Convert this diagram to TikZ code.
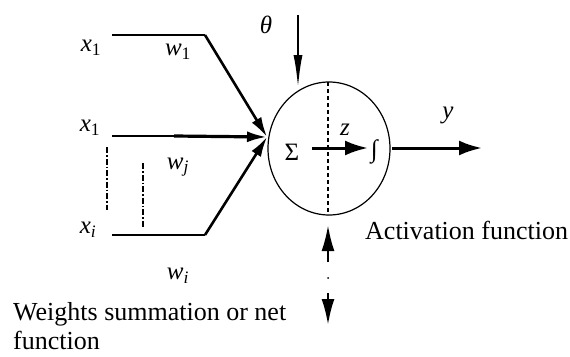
\documentclass[tikz,border=0pt]{standalone}
\usepackage{fontspec}
\setmainfont{Liberation Serif}
\usetikzlibrary{arrows.meta,shapes.geometric}
\begin{document}
\begin{tikzpicture}[x=1pt,y=-1pt,
  lbl/.style={inner sep=0pt,font=\fontsize{25}{30}\selectfont},
  thinln/.style={line width=1.5pt},
  thickarr/.style={line width=2.6pt,-{Latex[length=20pt,width=11pt]}},
  bigarr/.style={line width=3pt,-{Latex[length=23pt,width=15pt]}},
  vertarr/.style={line width=2.5pt,-{Latex[length=26pt,width=13pt]}},
  dashdotln/.style={line width=1.2pt,dash pattern=on 6pt off 2pt on 1.5pt off 2pt}]
\useasboundingbox (0,0) rectangle (570,356);
% neuron body
\node[draw,ellipse,line width=1.2pt,minimum width=122pt,minimum height=133pt,inner sep=0pt] (n) at (329,148.5) {};
\coordinate (dtop) at (328,82);
\coordinate (dbot) at (328,215);
\draw[line width=1.2pt,dash pattern=on 4pt off 3pt] (dtop) -- (dbot);
% inputs
\coordinate (a1) at (112,35);
\coordinate (b1) at (205,35);
\coordinate (a2) at (112,136);
\coordinate (b2) at (174,136);
\coordinate (a3) at (112,235);
\coordinate (b3) at (205,235);
\coordinate (conv) at (267,137);
\draw[thinln] (a1) -- (b1);
\draw[thickarr] (b1) -- (conv);
\draw[thinln] (a2) -- (b2);
\draw[thickarr,line width=3.2pt] (b2) -- (conv);
\draw[thinln] (a3) -- (b3);
\draw[thickarr] (b3) -- (conv);
\coordinate (d1s) at (107,147);
\coordinate (d1e) at (107,210);
\coordinate (d2s) at (143,163);
\coordinate (d2e) at (143,227);
\draw[dashdotln] (d1s) -- (d1e);
\draw[dashdotln] (d2s) -- (d2e);
% labels
\node[lbl] (x1) at (91,48) {\textit{x}\textsubscript{1}};
\node[lbl] (w1) at (178,52) {\textit{w}\textsubscript{1}};
\node[lbl] (x2) at (90,128) {\textit{x}\textsubscript{1}};
\node[lbl] (wj) at (178,167) {\textit{w}\textsubscript{\textit{j}}};
\node[lbl] (xi) at (88,230) {\textit{x}\textsubscript{\textit{i}}};
\node[lbl] (wi) at (178,276) {\textit{w}\textsubscript{\textit{i}}};
% theta
\node[lbl] (th) at (266,25) {\textit{θ}};
\coordinate (ths) at (298,15);
\coordinate (the) at (298,89);
\draw[line width=2.6pt,-{Latex[length=34pt,width=9pt]}] (ths) -- (the);
% inside
\node[lbl] (sig) at (292,152) {Σ};
\node[lbl] (z) at (345,130) {\textit{z}};
\node[lbl] (int) at (375,152) {\textit{∫}};
\coordinate (zs) at (312,148);
\coordinate (ze) at (368,148);
\draw[bigarr] (zs) -- (ze);
% output
\coordinate (ys) at (392,148);
\coordinate (ye) at (482,148);
\draw[bigarr] (ys) -- (ye);
\node[lbl] (y) at (448,115) {\textit{y}};
\node[lbl,anchor=west,font=\fontsize{26}{30}\selectfont] (act) at (365,230) {Activation function};
% bottom arrows
\coordinate (us) at (328,262);
\coordinate (ue) at (328,225);
\draw[vertarr] (us) -- (ue);
\fill (328,278) circle (1pt);
\coordinate (ds) at (328,293);
\coordinate (de) at (328,325);
\draw[vertarr] (ds) -- (de);
\node[lbl,anchor=base west,align=left,font=\fontsize{26}{29}\selectfont] (ws) at (13,349) {Weights summation or net\\function};
\end{tikzpicture}
\end{document}
